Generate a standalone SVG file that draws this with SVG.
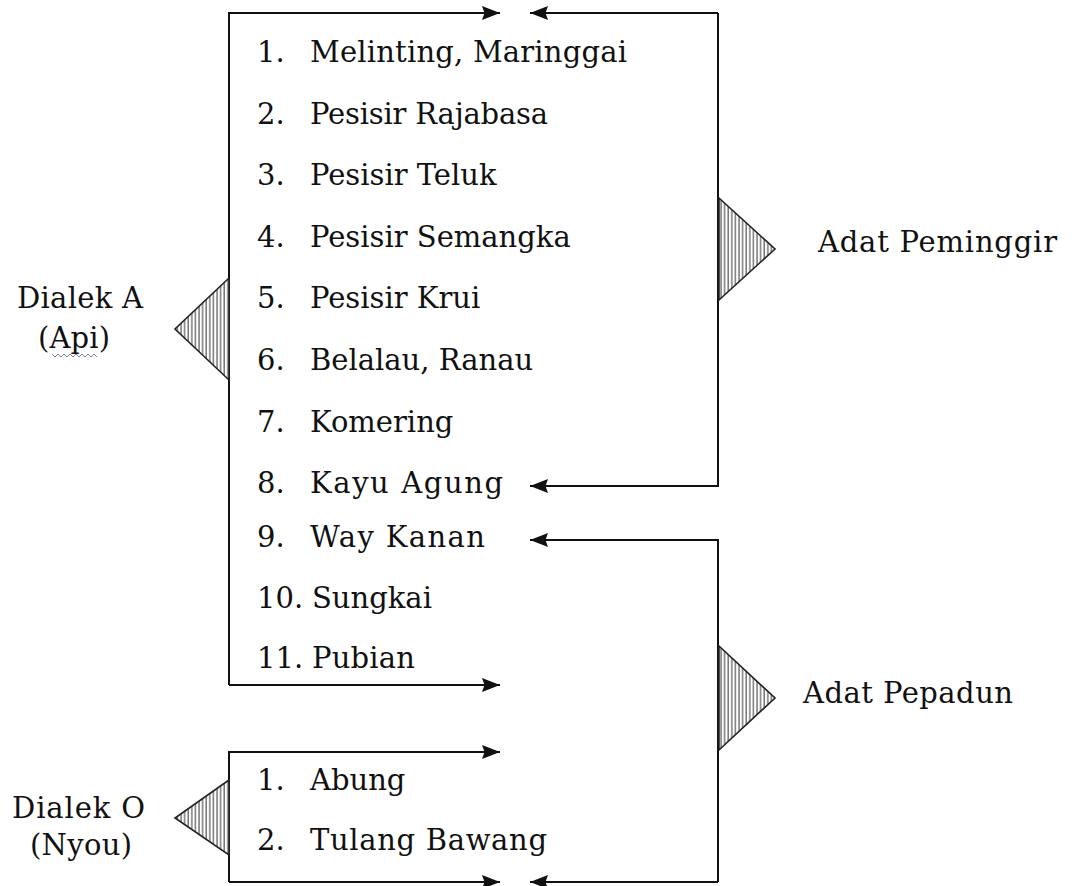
<svg xmlns="http://www.w3.org/2000/svg" width="1075" height="886" viewBox="0 0 1075 886">
<style>
text{font-family:"DejaVu Serif","Liberation Serif",serif;font-size:29px;fill:#111}
.ln{fill:none;stroke:#111;stroke-width:2}
.tri{fill:url(#hatch);stroke:#222;stroke-width:1.6;stroke-linejoin:miter}
</style>
<defs>
<pattern id="hatch" patternUnits="userSpaceOnUse" width="3.6" height="10">
<rect width="3.6" height="10" fill="#fff"/>
<line x1="1" y1="0" x2="1" y2="10" stroke="#333" stroke-width="1"/>
</pattern>
<marker id="ah" markerUnits="userSpaceOnUse" markerWidth="20" markerHeight="16" refX="18" refY="8" orient="auto">
<path d="M0,1 L18,8 L0,15 L2.5,8 Z" fill="#111"/>
</marker>
</defs>
<g id="connectors">
<path class="ln" d="M229,685 V13 H500" marker-end="url(#ah)"/>
<path class="ln" d="M718,13 H530" marker-end="url(#ah)"/>
<path class="ln" d="M718,13 V486 H530" marker-end="url(#ah)"/>
<path class="ln" d="M229,685 H500" marker-end="url(#ah)"/>
<path class="ln" d="M718,882 V540 H530" marker-end="url(#ah)"/>
<path class="ln" d="M229,882 V752 H500" marker-end="url(#ah)"/>
<path class="ln" d="M229,882 H500" marker-end="url(#ah)"/>
<path class="ln" d="M718,882 H530" marker-end="url(#ah)"/>
</g>
<g id="list-a">
<text x="257" y="62">1.</text><text x="310" y="62" textLength="317">Melinting, Maringgai</text>
<text x="257" y="124">2.</text><text x="310" y="124" textLength="238">Pesisir Rajabasa</text>
<text x="257" y="185">3.</text><text x="310" y="185">Pesisir Teluk</text>
<text x="257" y="247">4.</text><text x="310" y="247">Pesisir Semangka</text>
<text x="257" y="308">5.</text><text x="310" y="308">Pesisir Krui</text>
<text x="257" y="370">6.</text><text x="310" y="370">Belalau, Ranau</text>
<text x="257" y="432">7.</text><text x="310" y="432">Komering</text>
<text x="257" y="493">8.</text><text x="310" y="493" textLength="193">Kayu Agung</text>
<text x="257" y="547">9.</text><text x="310" y="547" textLength="175">Way Kanan</text>
<text x="257" y="608">10.</text><text x="312" y="608">Sungkai</text>
<text x="257" y="668">11.</text><text x="312" y="668" textLength="103">Pubian</text>
</g>
<g id="list-o">
<text x="257" y="790">1.</text><text x="310" y="790">Abung</text>
<text x="257" y="850">2.</text><text x="310" y="850" textLength="237">Tulang Bawang</text>
</g>
<g id="dialek-a">
<polygon class="tri" points="229,278 175,329 229,380"/>
<text x="17" y="308" textLength="126">Dialek A</text>
<text x="38" y="348" textLength="72">(Api)</text>
<path d="M52,354 l3,3 l3,-3 l3,3 l3,-3 l3,3 l3,-3 l3,3 l3,-3 l3,3 l3,-3 l3,3 l3,-3 l3,3 l3,-3 l3,3" fill="none" stroke="#7a86a8" stroke-width="1"/>
</g>
<g id="dialek-o">
<polygon class="tri" points="229,780 175,818 229,855"/>
<text x="12" y="818" textLength="133">Dialek O</text>
<text x="30" y="855" textLength="102">(Nyou)</text>
</g>
<g id="adat-peminggir">
<polygon class="tri" points="719,198 775,249 719,300"/>
<text x="818" y="252" textLength="239">Adat Peminggir</text>
</g>
<g id="adat-pepadun">
<polygon class="tri" points="719,646 775,698 719,750"/>
<text x="803" y="703" textLength="210">Adat Pepadun</text>
</g>
</svg>
